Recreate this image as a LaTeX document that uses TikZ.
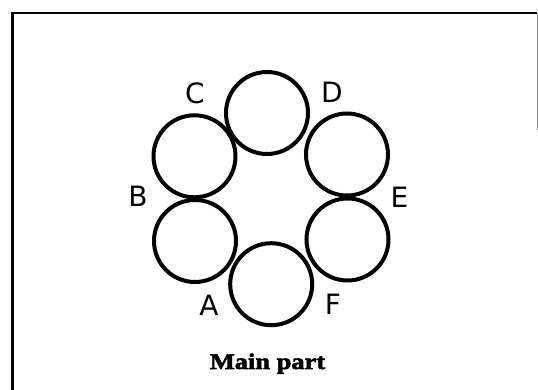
\documentclass[tikz,border=0pt]{standalone}
\usepackage{fontspec}
\setmainfont{Liberation Serif}
\newfontfamily\letterfont{DejaVu Sans}
\newfontfamily\captionfont[FakeStretch=1.18,FakeBold=2.5]{Liberation Serif}

\begin{document}
\begin{tikzpicture}[
  x=.5pt,y=-.5pt,
  frame/.style={draw=black,line width=1.1pt},
  ring/.style={circle,draw=black,line width=2pt,minimum size=41pt,inner sep=0pt},
  letter/.style={font=\letterfont\fontsize{14}{16}\selectfont},
  caption/.style={font=\captionfont\bfseries\fontsize{11.2}{13}\selectfont}
]
  \useasboundingbox (0,0) rectangle (538,390);
  \draw[frame] (12.5,390) -- (12.5,13) -- (537,13);
  \draw[draw=black!45,line width=.4pt] (537,13) -- (537,130);
  % six rings
  \foreach \name/\x/\y in {ringT/267/113,ringUL/194.5/156.3,ringLL/195/241,
                          ringB/271.2/284.2,ringUR/347/154.5,ringLR/347.5/239.5}{
    \node[ring] (\name) at (\x,\y) {};
  }
  \node[letter] (labC) at (195,93) {C};
  \node[letter] (labD) at (332,92.5) {D};
  \node[letter] (labB) at (138,196.5) {B};
  \node[letter] (labE) at (399.4,197) {E};
  \node[letter] (labA) at (209,305) {A};
  \node[letter] (labF) at (333,304) {F};
  \node[caption,anchor=base] (title) at (267.5,369) {Main part};
\end{tikzpicture}
\end{document}
